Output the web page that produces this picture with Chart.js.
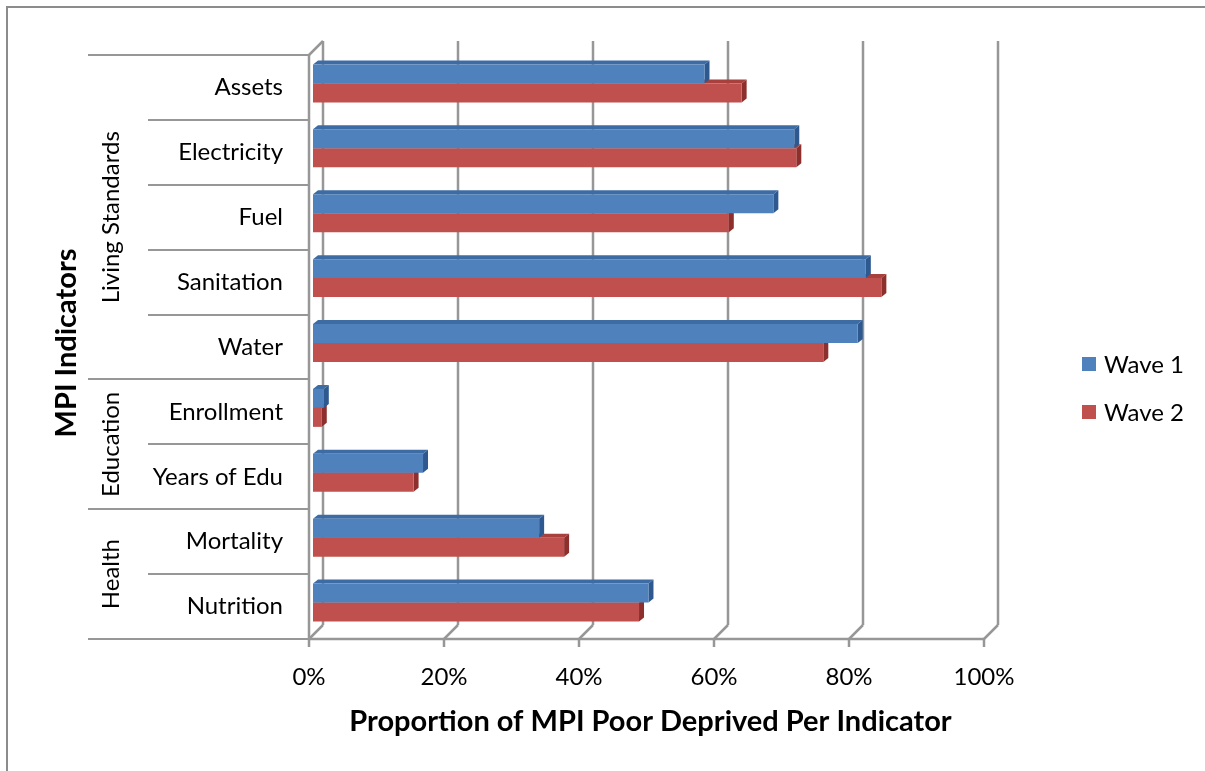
<!DOCTYPE html>
<html>
<head>
<meta charset="utf-8">
<script src="https://cdn.jsdelivr.net/npm/chart.js@4.4.1/dist/chart.umd.min.js"></script>
<style>
  html, body { margin: 0; padding: 0; background: #fff; }
  canvas { display: block; }
</style>
</head>
<body>
<canvas id="chart" width="1205" height="771"></canvas>
<script>
// Indicators, top to bottom, and the dimension each belongs to
const categories = ['Assets', 'Electricity', 'Fuel', 'Sanitation', 'Water',
                    'Enrollment', 'Years of Edu', 'Mortality', 'Nutrition'];
const groupNames = ['Living Standards', 'Education', 'Health'];
const groupSizes = [5, 2, 2];

// Share of MPI-poor households deprived in each indicator
const wave1 = [0.580, 0.713, 0.682, 0.819, 0.807, 0.016, 0.163, 0.335, 0.497];
const wave2 = [0.635, 0.716, 0.616, 0.842, 0.756, 0.013, 0.149, 0.372, 0.483];

const seriesNames = ['Wave 1', 'Wave 2'];
const xTicks = [0, 0.2, 0.4, 0.6, 0.8, 1];

const FONT = 'Lato, "Open Sans", sans-serif';
const LABEL_SIZE = 24;
const TITLE_SIZE = 29;
const LINE = '#979797';

// colours for the front, top and side faces of each series
const faces = [
  { front: '#4f81bd', top: '#3d6ca5', side: '#2e5990' },
  { front: '#c0504d', top: '#a8413e', side: '#8d2f2c' }
];

// oblique offsets of the floor front edge, the back wall and the bar thickness
const FRONT = { dx: -4, dy: 4 };
const BACK = { dx: 10, dy: -10 };
const BAR_DEPTH = { dx: 5, dy: -4 };

function line(ctx, x1, y1, x2, y2) {
  ctx.beginPath();
  ctx.moveTo(x1, y1);
  ctx.lineTo(x2, y2);
  ctx.stroke();
}

function poly(ctx, pts, fill) {
  ctx.beginPath();
  ctx.moveTo(pts[0][0], pts[0][1]);
  for (let i = 1; i < pts.length; i++) ctx.lineTo(pts[i][0], pts[i][1]);
  ctx.closePath();
  ctx.fillStyle = fill;
  ctx.fill();
}

const box3d = {
  id: 'box3d',
  beforeDatasetsDraw(chart) {
    const { ctx, chartArea: a, scales: { x } } = chart;
    ctx.save();
    ctx.strokeStyle = LINE;
    ctx.lineWidth = 2.5;
    const fy = a.bottom + FRONT.dy;
    const by = a.bottom + BACK.dy;
    const ty = a.top + BACK.dy;
    xTicks.forEach(v => {
      const px = x.getPixelForValue(v);
      const fx = px + FRONT.dx, bx = px + BACK.dx;
      line(ctx, bx, ty, bx, by);       // back wall gridline
      line(ctx, fx, fy, bx, by);       // floor edge running back
      line(ctx, fx, fy, fx, fy + 8);   // tick mark
    });
    const x0 = x.getPixelForValue(0);
    const x1 = x.getPixelForValue(1);
    line(ctx, x0 + FRONT.dx, fy, x1 + FRONT.dx, fy);                       // floor front edge
    line(ctx, x0 + FRONT.dx, a.top + FRONT.dy, x0 + FRONT.dx, fy);         // side wall front edge
    line(ctx, x0 + FRONT.dx, a.top + FRONT.dy, x0 + BACK.dx, ty);          // side wall top edge

    // top and side faces of every bar, lower series first
    for (let d = chart.data.datasets.length - 1; d >= 0; d--) {
      const meta = chart.getDatasetMeta(d);
      const f = faces[d];
      meta.data.forEach(el => {
        const p = el.getProps(['x', 'y', 'base', 'height'], true);
        const yt = p.y - p.height / 2, yb = p.y + p.height / 2;
        const s = p.base, e = p.x;
        poly(ctx, [[s, yt], [e, yt], [e + BAR_DEPTH.dx, yt + BAR_DEPTH.dy], [s + BAR_DEPTH.dx, yt + BAR_DEPTH.dy]], f.top);
        poly(ctx, [[e, yt], [e, yb], [e + BAR_DEPTH.dx, yb + BAR_DEPTH.dy], [e + BAR_DEPTH.dx, yt + BAR_DEPTH.dy]], f.side);
      });
    }
    ctx.restore();
  },
  afterDraw(chart) {
    const { ctx, chartArea: a, scales: { x, y } } = chart;
    ctx.save();
    const wallX = x.getPixelForValue(0) + FRONT.dx;
    const n = categories.length;
    const edge = i => {
      if (i === 0) return a.top + FRONT.dy;
      if (i === n) return a.bottom + FRONT.dy;
      return (y.getPixelForValue(i - 1) + y.getPixelForValue(i)) / 2 + FRONT.dy;
    };
    // multi-level category dividers
    const groupStarts = [0];
    groupSizes.forEach((s, i) => groupStarts.push(groupStarts[i] + s));
    ctx.strokeStyle = LINE;
    ctx.lineWidth = 2;
    for (let i = 0; i <= n; i++) {
      const yy = Math.round(edge(i));
      const isGroup = groupStarts.includes(i);
      line(ctx, isGroup ? 88 : 148, yy, wallX, yy);
    }
    // group names, rotated
    ctx.fillStyle = '#000';
    ctx.font = `${LABEL_SIZE}px ${FONT}`;
    ctx.textAlign = 'center';
    ctx.textBaseline = 'middle';
    groupNames.forEach((g, i) => {
      const cy = (edge(groupStarts[i]) + edge(groupStarts[i + 1])) / 2;
      ctx.save();
      ctx.translate(111, cy);
      ctx.rotate(-Math.PI / 2);
      ctx.fillText(g, 0, 0);
      ctx.restore();
    });
    // legend
    ctx.textAlign = 'left';
    chart.data.datasets.forEach((ds, i) => {
      const cy = 364 + i * 48;
      ctx.fillStyle = ds.backgroundColor;
      ctx.fillRect(1082, cy - 7, 14, 14);
      ctx.fillStyle = '#000';
      ctx.fillText(ds.label, 1104, cy + 1);
    });
    // chart frame
    ctx.strokeStyle = '#8c8c8c';
    ctx.lineWidth = 2;
    ctx.beginPath();
    ctx.moveTo(7, 771);
    ctx.lineTo(7, 7);
    ctx.lineTo(1205, 7);
    ctx.stroke();
    ctx.restore();
  }
};

new Chart(document.getElementById('chart'), {
  type: 'bar',
  data: {
    labels: categories,
    datasets: [
      { label: seriesNames[0], data: wave1, backgroundColor: faces[0].front },
      { label: seriesNames[1], data: wave2, backgroundColor: faces[1].front }
    ]
  },
  options: {
    indexAxis: 'y',
    responsive: false,
    animation: false,
    devicePixelRatio: 1,
    categoryPercentage: 0.585,
    barPercentage: 1,
    layout: { padding: { left: 0, top: 51, right: 217, bottom: 0 }, autoPadding: false },
    plugins: {
      legend: { display: false },
      tooltip: { enabled: false }
    },
    scales: {
      x: {
        min: 0,
        max: 1,
        ticks: {
          stepSize: 0.2,
          callback: v => Math.round(v * 100) + '%',
          font: { family: FONT, size: LABEL_SIZE },
          color: '#000',
          padding: 28,
          labelOffset: FRONT.dx,
          maxRotation: 0,
          autoSkip: false
        },
        grid: { display: false, drawTicks: false },
        border: { display: false },
        title: {
          display: true,
          text: 'Proportion of MPI Poor Deprived Per Indicator',
          font: { family: FONT, size: TITLE_SIZE, weight: 'bold' },
          color: '#000',
          padding: { top: 0, bottom: 32 }
        },
        afterFit: s => { s.height = 136; }
      },
      y: {
        ticks: {
          font: { family: FONT, size: LABEL_SIZE },
          color: '#000',
          padding: 30,
          labelOffset: FRONT.dy,
          autoSkip: false
        },
        grid: { display: false, drawTicks: false },
        border: { display: false },
        title: {
          display: true,
          text: 'MPI Indicators',
          font: { family: FONT, size: TITLE_SIZE, weight: 'bold' },
          color: '#000',
          padding: { top: 49, bottom: 0 }
        },
        afterFit: s => { s.width = 313; }
      }
    }
  },
  plugins: [box3d]
});
</script>
</body>
</html>
